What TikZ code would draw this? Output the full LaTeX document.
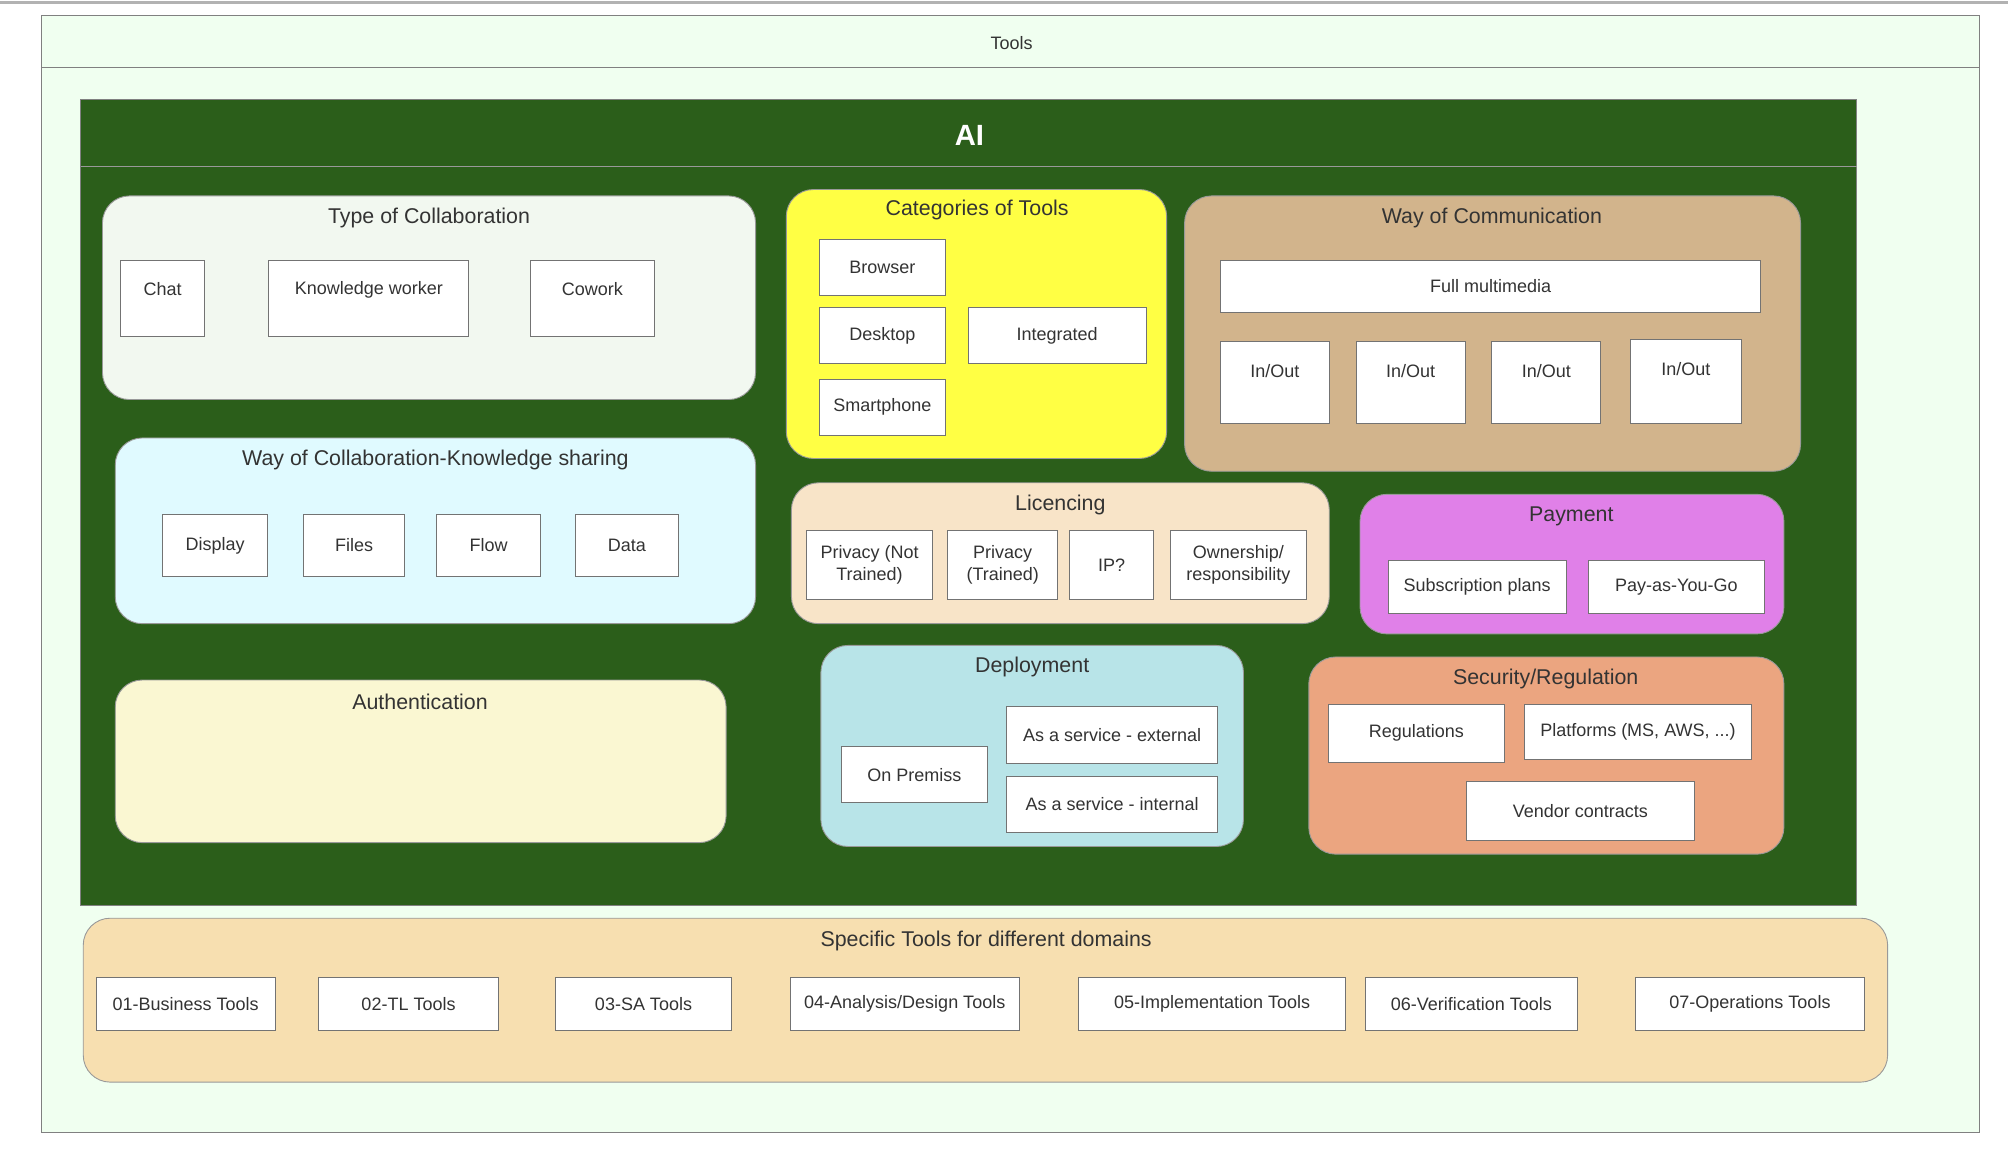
\documentclass[tikz,border=0pt]{standalone}
\usepackage{fontspec}
\setmainfont{Liberation Sans}
\usepackage{xcolor}
\usepackage{tikz}

\definecolor{aigreen}{HTML}{2B5E1A}
\definecolor{collab}{HTML}{F2F8F0}
\definecolor{catyel}{HTML}{FFFF44}
\definecolor{commtan}{HTML}{D2B48C}
\definecolor{share}{HTML}{E0FAFF}
\definecolor{licpeach}{HTML}{F8E4C8}
\definecolor{payviolet}{HTML}{E080E8}
\definecolor{authcream}{HTML}{FAF7D2}
\definecolor{deploy}{HTML}{B8E4E8}
\definecolor{secsalmon}{HTML}{EBA580}
\definecolor{domain}{HTML}{F7DFB0}

\tikzset{
  grp/.style={draw=black!40, rounded corners=12pt},
  grptitle/.style={font=\fontsize{9.5}{11}\selectfont, text=black!80},
  itm/.style={draw=black!55, fill=white},
  itmtext/.style={font=\fontsize{8}{9.5}\selectfont, text=black!80, align=center}
}
% item box: name, x1, y1, x2, y2, text (centred)
\newcommand{\itm}[6]{
  \draw[itm] (#2,#3) rectangle (#4,#5);
  \node[itmtext] (#1) at ({(#2+#4)/2},{(#3+#5)/2}) {#6};
}
% item box with text near its top
\newcommand{\itmtop}[6]{
  \draw[itm] (#2,#3) rectangle (#4,#5);
  \node[itmtext] (#1) at ({(#2+#4)/2},{#3+23}) {#6};
}

\begin{document}
\begin{tikzpicture}[x=0.02cm, y=-0.02cm]
\useasboundingbox (0,0) rectangle (1568,905);
\draw[black!30, line width=1pt] (0,2)--(1568,2);

% Tools frame
\draw[black!50, fill=green!6] (32,12) rectangle (1546,884);
\draw[black!50] (32,53)--(1546,53);
\node[itmtext] (tools) at (790,34) {Tools};

% AI
\draw[black!50, fill=aigreen] (63,78) rectangle (1450,707);
\draw[black!40] (63,130)--(1450,130);
\node[font=\bfseries\fontsize{13}{15}\selectfont, text=white] (ai) at (757,106) {AI};

% Type of Collaboration
\draw[grp, fill=collab] (80,153) rectangle (590,312);
\node[grptitle] (typecol) at (335,170) {Type of Collaboration};
\itmtop{chat}{94}{203}{160}{263}{Chat}
\itmtop{knowledge}{210}{203}{366}{263}{Knowledge worker}
\itmtop{cowork}{414}{203}{511}{263}{Cowork}

% Categories of Tools
\draw[grp, fill=catyel] (614,148) rectangle (911,358);
\node[grptitle] (cattools) at (763,164) {Categories of Tools};
\itm{browser}{640}{187}{738}{231}{Browser}
\itm{desktop}{640}{240}{738}{284}{Desktop}
\itm{integrated}{756}{240}{895}{284}{Integrated}
\itm{smartphone}{640}{296}{738}{340}{Smartphone}

% Way of Communication
\draw[grp, fill=commtan] (925,153) rectangle (1406,368);
\node[grptitle] (waycomm) at (1165,170) {Way of Communication};
\itm{multimedia}{953}{203}{1375}{244}{Full multimedia}
\itmtop{inouta}{953}{267}{1038}{331}{In/Out}
\itmtop{inoutb}{1059}{267}{1144}{331}{In/Out}
\itmtop{inoutc}{1165}{267}{1250}{331}{In/Out}
\itmtop{inoutd}{1273}{265}{1360}{331}{In/Out}

% Way of Collaboration-Knowledge sharing
\draw[grp, fill=share] (90,342) rectangle (590,487);
\node[grptitle] (sharing) at (340,359) {Way of Collaboration-Knowledge sharing};
\itm{display}{127}{402}{209}{450}{Display}
\itm{files}{237}{402}{316}{450}{Files}
\itm{flow}{341}{402}{422}{450}{Flow}
\itm{data}{449}{402}{530}{450}{Data}

% Licencing
\draw[grp, fill=licpeach] (618,377) rectangle (1038,487);
\node[grptitle] (licencing) at (828,394) {Licencing};
\itm{privnot}{630}{414}{728}{468}{Privacy (Not\\Trained)}
\itm{privtr}{740}{414}{826}{468}{Privacy\\(Trained)}
\itm{ip}{835}{414}{901}{468}{IP?}
\itm{owner}{914}{414}{1020}{468}{Ownership/\\responsibility}

% Payment
\draw[grp, fill=payviolet] (1062,386) rectangle (1393,495);
\node[grptitle] (payment) at (1227,403) {Payment};
\itm{subscr}{1084}{438}{1223}{479}{Subscription plans}
\itm{payg}{1240}{438}{1378}{479}{Pay-as-You-Go}

% Authentication
\draw[grp, fill=authcream] (90,531) rectangle (567,658);
\node[grptitle] (auth) at (328,548) {Authentication};

% Deployment
\draw[grp, fill=deploy] (641,504) rectangle (971,661);
\node[grptitle] (deployment) at (806,521) {Deployment};
\itm{onprem}{657}{583}{771}{627}{On Premiss}
\itm{svcext}{786}{552}{951}{596}{As a service - external}
\itm{svcint}{786}{606}{951}{650}{As a service - internal}

% Security/Regulation
\draw[grp, fill=secsalmon] (1022,513) rectangle (1393,667);
\node[grptitle] (security) at (1207,530) {Security/Regulation};
\itm{regul}{1037}{550}{1175}{595}{Regulations}
\itm{platforms}{1190}{550}{1368}{593}{Platforms (MS, AWS, ...)}
\itm{vendor}{1145}{610}{1323}{656}{Vendor contracts}

% Specific Tools for different domains
\draw[grp, fill=domain] (65,717) rectangle (1474,845);
\node[grptitle] (specific) at (770,735) {Specific Tools for different domains};
\itm{business}{75}{763}{215}{805}{01-Business Tools}
\itm{tl}{249}{763}{389}{805}{02-TL Tools}
\itm{sa}{434}{763}{571}{805}{03-SA Tools}
\itm{analysis}{617}{763}{796}{805}{04-Analysis/Design Tools}
\itm{implem}{842}{763}{1051}{805}{05-Implementation Tools}
\itm{verif}{1066}{763}{1232}{805}{06-Verification Tools}
\itm{operations}{1277}{763}{1456}{805}{07-Operations Tools}
\end{tikzpicture}
\end{document}
